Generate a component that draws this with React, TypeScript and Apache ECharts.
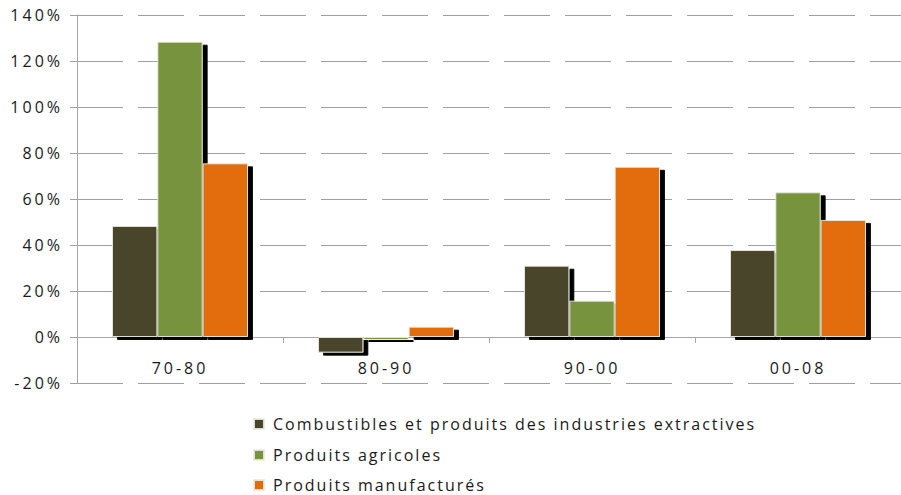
import React, { useEffect, useRef } from "react";
import * as echarts from "echarts";

const categories = ["70-80", "80-90", "90-00", "00-08"];
const seriesNames = [
  "Combustibles et produits des industries extractives",
  "Produits agricoles",
  "Produits manufacturés",
];
const combustibles = [48.3, -6.8, 31.0, 37.8];
const agricoles = [128.4, -1.3, 15.8, 62.9];
const manufactures = [75.5, 4.5, 74.0, 50.9];
const colors = ["#4A452A", "#77933C", "#E36C0A"];
const yMin = -20;
const yMax = 140;
const yStep = 20;

const css = `
.chart-root text { letter-spacing: 2px; }
.chart-root text[text-anchor="end"], .chart-root text[text-anchor="middle"] { letter-spacing: 3px; }
`;

export default function App() {
  const ref = useRef<HTMLDivElement>(null);
  useEffect(() => {
    if (!ref.current) return;
    const chart = echarts.init(ref.current, null, { renderer: "svg" });
    const values = [combustibles, agricoles, manufactures];
    const font = "'Open Sans', sans-serif";
    const legendTops = [416, 447, 477];
    chart.setOption({
      animation: false,
      backgroundColor: "#ffffff",
      textStyle: { fontFamily: font },
      grid: { left: 77, top: 15, width: 836, height: 368, containLabel: false },
      legend: seriesNames.map((name, i) => ({
        orient: "vertical",
        left: 253,
        top: legendTops[i],
        padding: 0,
        itemWidth: 14,
        itemHeight: 10,
        icon: "path://M0,0H10V10H0Z M14,5L14,5",
        selectedMode: false,
        textStyle: { fontFamily: font, fontSize: 16, color: "#1a1a1a", lineHeight: 14 },
        data: [name],
      })),
      xAxis: {
        type: "category",
        data: categories,
        offset: -46,
        axisLine: { show: true, onZero: false, lineStyle: { color: "#a6a6a6", width: 1 } },
        axisTick: { show: true, length: 6, interval: 0, lineStyle: { color: "#a6a6a6" } },
        axisLabel: { margin: 23, fontSize: 16, color: "#1a1a1a", fontFamily: font },
        splitLine: { show: false },
      },
      yAxis: {
        type: "value",
        min: yMin,
        max: yMax,
        interval: yStep,
        axisLine: { show: true, lineStyle: { color: "#a6a6a6", width: 1 } },
        axisTick: { show: true, length: 7, lineStyle: { color: "#a0a0a0" } },
        axisLabel: {
          margin: 14,
          fontSize: 16,
          color: "#1a1a1a",
          fontFamily: font,
          formatter: "{value}%",
        },
        splitLine: { show: true, lineStyle: { color: "#a0a0a0", width: 1, type: [46, 15] } },
      },
      series: values.map((v, i) => ({
        name: seriesNames[i],
        type: "bar",
        data: v,
        barGap: "0%",
        barCategoryGap: "34%",
        itemStyle: {
          color: colors[i],
          borderColor: "rgba(235,235,225,0.9)",
          borderWidth: 1,
          shadowColor: "#000000",
          shadowBlur: 0,
          shadowOffsetX: 5,
          shadowOffsetY: 3,
        },
      })),
    });
    return () => chart.dispose();
  }, []);
  return (
    <>
      <style>{css}</style>
      <div
        ref={ref}
        className="chart-root"
        style={{ position: "absolute", left: 0, top: 0, width: 901, height: 495, overflow: "hidden" }}
      />
    </>
  );
}
